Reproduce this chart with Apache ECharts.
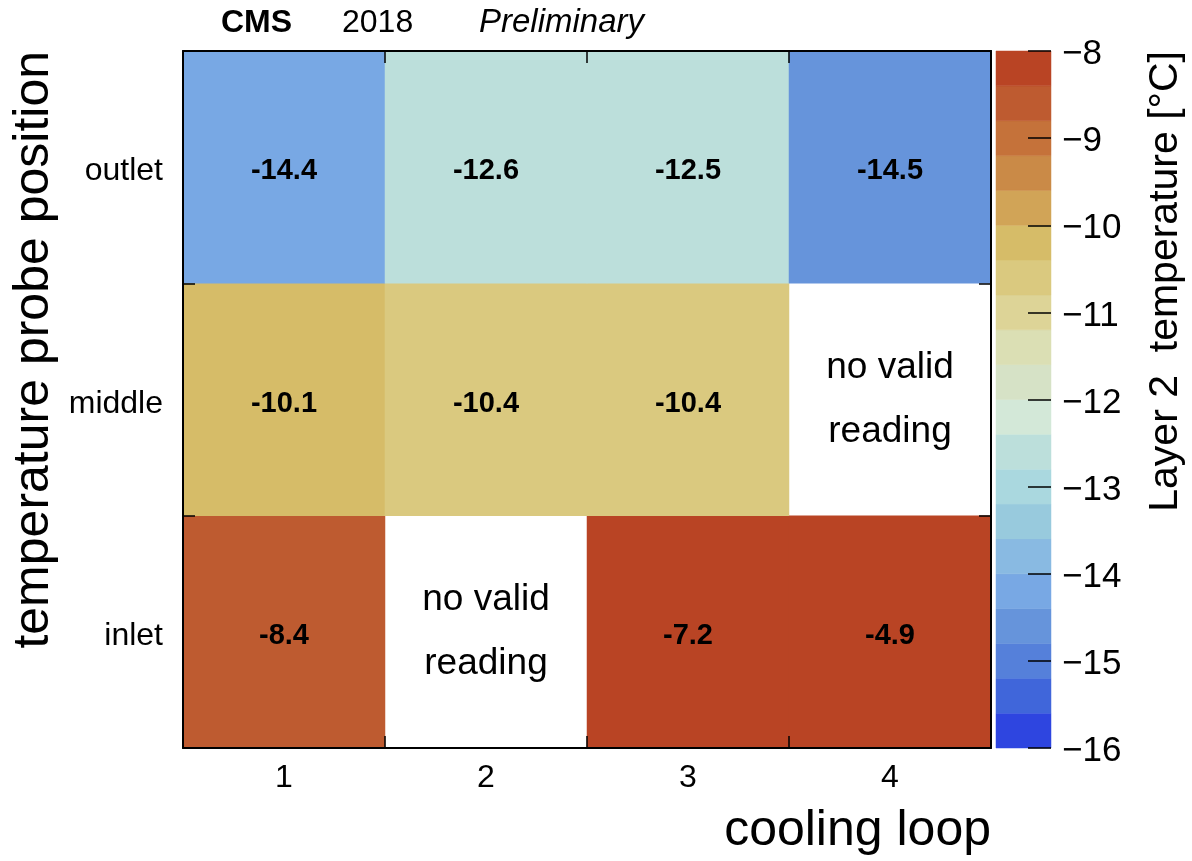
<!DOCTYPE html>
<html>
<head>
<meta charset="utf-8">
<script src="https://cdn.jsdelivr.net/npm/echarts/dist/echarts.min.js"></script>
<style>
  html, body { margin: 0; padding: 0; background: #fff; }
  #chart { width: 1192px; height: 861px; }
</style>
</head>
<body>
<div id="chart"></div>
<script>
// Cooling loops (x) and probe positions (y, bottom to top)
const loops = ['1', '2', '3', '4'];
const positions = ['inlet', 'middle', 'outlet'];

// Mean Layer 2 temperature per probe, one row per position, null = no valid reading
const inletTemps  = [-8.42, null, -7.2, -4.9];
const middleTemps = [-10.1, -10.42, -10.42, null];
const outletTemps = [-14.38, -12.6, -12.5, -14.5];

// Colour scale: range and palette bands, coldest first
const scaleMin = -16;
const scaleMax = -8;
const bandColors = [
  '#2E45E0', '#4066DA', '#5580DA', '#6694DB', '#78A8E4',
  '#89BAE2', '#98CADD', '#AAD8DF', '#BCDFDB', '#D3E8D8',
  '#D6E2C6', '#DBDFB4', '#DDD497', '#DAC97F', '#D6BC68',
  '#D1A457', '#CA8A47', '#C5723A', '#BE5B30', '#B94424'
];

const FONT = '"Liberation Sans", Arial, Helvetica, sans-serif';

// heatmap cells and the cells without a reading
const rows = [inletTemps, middleTemps, outletTemps];
const cells = [];
const missing = [];
rows.forEach((row, yi) => {
  row.forEach((v, xi) => {
    if (v === null) missing.push([xi, yi]);
    else cells.push([xi, yi, v]);
  });
});

// band edges of the stepped palette
const nBands = bandColors.length;
const step = (scaleMax - scaleMin) / nBands;
const edge = i => Math.round((scaleMin + i * step) * 1000) / 1000;
const pieces = bandColors.map((c, i) => {
  const p = { color: c };
  if (i > 0) p.gte = edge(i);
  if (i < nBands - 1) p.lt = edge(i + 1);
  return p;
});
const bands = bandColors.map((c, i) => [edge(i), edge(i + 1), i]);

// labels sit a little below their tick
const lowered = s => '{t|' + s + '}';
const minus = v => lowered((v < 0 ? '\u2212' : '') + Math.abs(v));

const frameTick = { show: true, inside: true, length: 12, lineStyle: { color: '#000', width: 1.5 } };
const frameLine = { show: true, onZero: false, lineStyle: { color: '#000', width: 2 } };

const chart = echarts.init(document.getElementById('chart'), null, { renderer: 'canvas' });

chart.setOption({
  backgroundColor: '#fff',
  animation: false,
  grid: [
    { left: 183, top: 51, width: 808, height: 697 },
    { left: 996, top: 51, width: 55, height: 697 }
  ],
  xAxis: [
    {
      type: 'category', data: loops, gridIndex: 0, position: 'bottom', z: 10,
      axisLine: frameLine, axisTick: frameTick,
      axisLabel: { fontFamily: FONT, fontSize: 32, color: '#000', margin: 14 },
      splitLine: { show: false }
    },
    {
      type: 'category', data: loops, gridIndex: 0, position: 'top', z: 10,
      axisLine: frameLine, axisTick: frameTick, axisLabel: { show: false },
      splitLine: { show: false }
    },
    {
      type: 'value', gridIndex: 1, min: 0, max: 1, show: false,
      axisLine: { show: false, onZero: false }
    }
  ],
  yAxis: [
    {
      type: 'category', data: positions, gridIndex: 0, position: 'left', z: 10,
      axisLine: frameLine, axisTick: frameTick,
      axisLabel: {
        color: '#000', margin: 20, formatter: lowered,
        rich: { t: { fontFamily: FONT, fontSize: 32, color: '#000', padding: [9, 0, 0, 0] } }
      },
      splitLine: { show: false }
    },
    {
      type: 'category', data: positions, gridIndex: 0, position: 'right', z: 10,
      axisLine: frameLine, axisTick: frameTick, axisLabel: { show: false },
      splitLine: { show: false }
    },
    {
      type: 'value', gridIndex: 1, position: 'right', min: scaleMin, max: scaleMax, interval: 1, z: 10,
      axisLine: { show: false, onZero: false },
      axisTick: { show: true, inside: true, length: 23, lineStyle: { color: '#000', width: 1.5 } },
      axisLabel: {
        color: '#000', margin: 11, formatter: minus,
        rich: { t: { fontFamily: FONT, fontSize: 35, color: '#000', padding: [7, 0, 0, 0] } }
      },
      splitLine: { show: false }
    }
  ],
  visualMap: {
    type: 'piecewise', show: false, seriesIndex: 0, dimension: 2, pieces: pieces
  },
  series: [
    {
      type: 'heatmap', xAxisIndex: 0, yAxisIndex: 0, z: 1,
      data: cells,
      itemStyle: { borderWidth: 0 },
      emphasis: { disabled: true },
      label: {
        show: true, color: '#000', fontFamily: FONT, fontWeight: 'bold', fontSize: 29,
        offset: [0, 4],
        formatter: p => p.value[2].toFixed(1)
      }
    },
    {
      type: 'scatter', xAxisIndex: 0, yAxisIndex: 0, z: 3,
      data: missing, symbolSize: 0, silent: true,
      itemStyle: { opacity: 1, color: 'transparent' },
      label: {
        show: true, position: 'inside', color: '#000', fontFamily: FONT, fontSize: 37,
        lineHeight: 64, formatter: 'no valid\nreading'
      }
    },
    {
      // stepped colour bar
      type: 'custom', xAxisIndex: 2, yAxisIndex: 2, z: 1, silent: true,
      data: bands,
      renderItem: (params, api) => {
        const top = api.coord([0, api.value(1)]);
        const bottom = api.coord([1, api.value(0)]);
        return {
          type: 'rect',
          shape: { x: top[0], y: top[1], width: bottom[0] - top[0], height: bottom[1] - top[1] },
          style: { fill: bandColors[api.value(2)], stroke: bandColors[api.value(2)], lineWidth: 0.5 }
        };
      }
    }
  ],
  graphic: [
    { type: 'text', x: 221, y: 23, style: { text: 'CMS', font: 'bold 32px ' + FONT, fill: '#000', textVerticalAlign: 'middle' } },
    { type: 'text', x: 342, y: 23, style: { text: '2018', font: '32px ' + FONT, fill: '#000', textVerticalAlign: 'middle' } },
    { type: 'text', x: 479, y: 23, style: { text: 'Preliminary', font: 'italic 33px ' + FONT, fill: '#000', textVerticalAlign: 'middle' } },
    { type: 'text', x: 991, y: 831, style: { text: 'cooling loop', font: '50px ' + FONT, fill: '#000', textAlign: 'right', textVerticalAlign: 'middle' } },
    { type: 'text', x: 34, y: 51, rotation: Math.PI / 2, style: { text: 'temperature probe position', font: '50px ' + FONT, fill: '#000', textAlign: 'right', textVerticalAlign: 'middle' } },
    { type: 'text', x: 1166, y: 51, rotation: Math.PI / 2, style: { text: 'Layer 2  temperature [°C]', font: '41px ' + FONT, fill: '#000', textAlign: 'right', textVerticalAlign: 'middle' } }
  ]
});
</script>
</body>
</html>
